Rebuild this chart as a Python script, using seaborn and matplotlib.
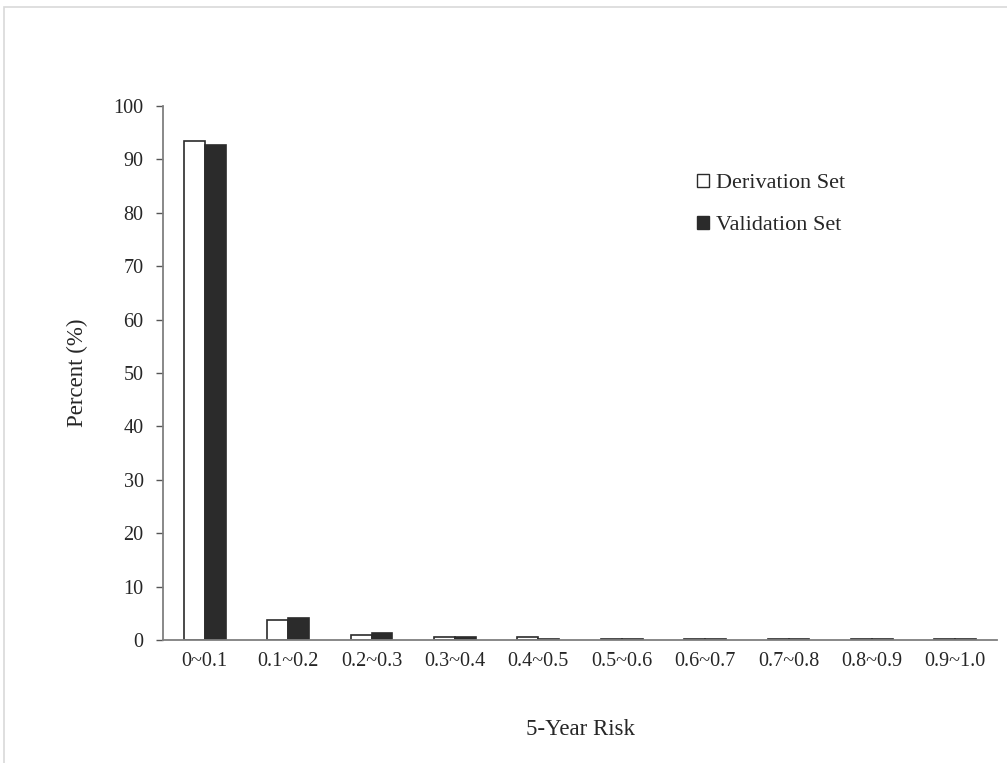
import matplotlib
matplotlib.use("Agg")
import matplotlib.pyplot as plt
import seaborn as sns
import pandas as pd
from matplotlib.patches import Rectangle, Patch

categories = ["0~0.1", "0.1~0.2", "0.2~0.3", "0.3~0.4", "0.4~0.5",
              "0.5~0.6", "0.6~0.7", "0.7~0.8", "0.8~0.9", "0.9~1.0"]
derivation = [93.4, 3.7, 0.9, 0.5, 0.6, 0.1, 0.1, 0.1, 0.1, 0.1]
validation = [92.7, 4.2, 1.3, 0.5, 0.2, 0.1, 0.1, 0.1, 0.1, 0.1]
series_names = ["Derivation Set", "Validation Set"]

df = pd.DataFrame({
    "Risk": categories * 2,
    "Percent": derivation + validation,
    "Set": [series_names[0]] * len(categories) + [series_names[1]] * len(categories),
})

sns.set_style("white")
plt.rcParams["font.family"] = ["Liberation Serif", "DejaVu Serif"]

fig = plt.figure(figsize=(10.07, 7.63), dpi=100)
ax = fig.add_axes([163 / 1007, 1 - 640 / 763, (997 - 163) / 1007, (640 - 106) / 763])

palette = {series_names[0]: "#ffffff", series_names[1]: "#2b2b2b"}
sns.barplot(data=df, x="Risk", y="Percent", hue="Set", palette=palette,
            order=categories, hue_order=series_names, width=0.5,
            edgecolor="#2b2b2b", linewidth=1.2, ax=ax, legend=False)

ax.set_ylim(0, 100)
ax.set_xlim(-0.5, len(categories) - 0.5)
ax.set_yticks(range(0, 101, 10))
ax.tick_params(axis="y", which="both", direction="out", length=5, width=1,
               color="#555555", labelsize=14.5, pad=9, left=True)
ax.tick_params(axis="x", length=0, labelsize=14.5, pad=9)
for s in ["top", "right"]:
    ax.spines[s].set_visible(False)
for s in ["left", "bottom"]:
    ax.spines[s].set_color("#7f7f7f")
    ax.spines[s].set_linewidth(1.3)

ax.set_xlabel("5-Year Risk", fontsize=16.5, labelpad=34)
ax.set_ylabel("Percent (%)", fontsize=16.5, labelpad=18)

handles = [Patch(facecolor=palette[n], edgecolor="#2b2b2b", linewidth=1.0) for n in series_names]
leg = ax.legend(handles, series_names, loc="upper left",
                bbox_to_anchor=((688 - 163) / (997 - 163), 1 - (165 - 106) / (640 - 106)),
                frameon=False, fontsize=16, handlelength=0.55, handleheight=0.55,
                handletextpad=0.3, labelspacing=1.0, borderaxespad=0)

fig.patches.append(Rectangle((4 / 1007, -0.1), 1.2, 1 - 7 / 763 + 0.1,
                             transform=fig.transFigure, fill=False,
                             edgecolor="#d9d9d9", linewidth=1.2))

fig.savefig("out.png", dpi=100)
